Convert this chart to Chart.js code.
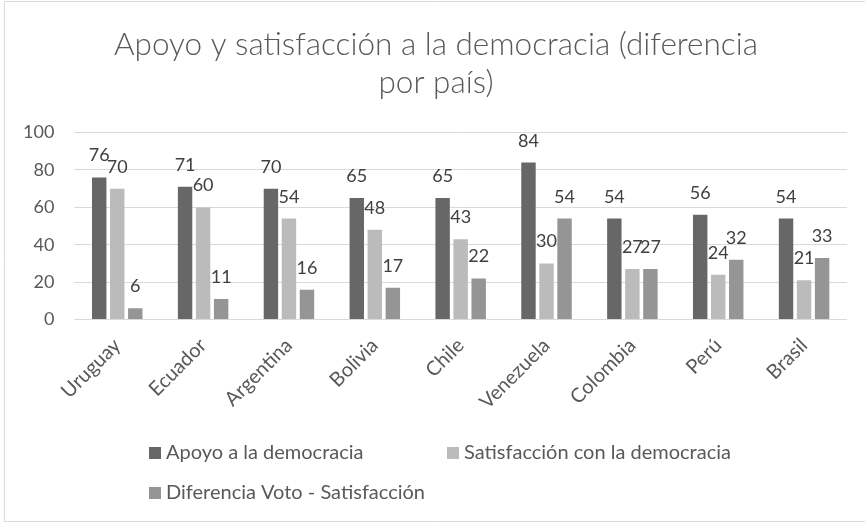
<!DOCTYPE html>
<html>
<head>
<meta charset="utf-8">
<script src="https://cdn.jsdelivr.net/npm/chart.js@4"></script>
<style>
    html, body { margin: 0; padding: 0; background: #fff; }
    #wrap { width: 865px; height: 523px; position: relative; }
</style>
</head>
<body>
<div id="wrap"><canvas id="demoChart"></canvas></div>
<script>
const countries = ['Uruguay', 'Ecuador', 'Argentina', 'Bolivia', 'Chile', 'Venezuela', 'Colombia', 'Perú', 'Brasil'];
const apoyo = [76, 71, 70, 65, 65, 84, 54, 56, 54];
const satisfaccion = [70, 60, 54, 48, 43, 30, 27, 24, 21];
const diferencia = [6, 11, 16, 17, 22, 54, 27, 32, 33];
const seriesNames = ['Apoyo a la democracia', 'Satisfacción con la democracia', 'Diferencia Voto - Satisfacción'];
const yTicks = [0, 20, 40, 60, 80, 100];

const textColor = '#595959';
const fontFamily = 'Lato, "Open Sans", sans-serif';

// value labels above every bar
const valueLabels = {
    id: 'valueLabels',
    afterDatasetsDraw(chart) {
        const ctx = chart.ctx;
        ctx.save();
        ctx.font = '18px ' + fontFamily;
        ctx.fillStyle = '#404040';
        ctx.textAlign = 'center';
        ctx.textBaseline = 'alphabetic';
        chart.data.datasets.forEach((ds, i) => {
            const meta = chart.getDatasetMeta(i);
            meta.data.forEach((bar, j) => {
                ctx.fillText(String(ds.data[j]), bar.x, bar.y - 16);
            });
        });
        ctx.restore();
    }
};

// two-column legend like the office chart, plus the frame
const gridLegend = {
    id: 'gridLegend',
    afterLayout(chart) {
        // the office title sits a little right of the canvas centre
        if (chart.titleBlock) chart.titleBlock.left += 22;
    },
    beforeDraw(chart) {
        const ctx = chart.ctx;
        ctx.save();
        ctx.strokeStyle = '#d9d9d9';
        ctx.lineWidth = 1;
        ctx.beginPath();
        ctx.moveTo(865, 1.5);
        ctx.lineTo(4.5, 1.5);
        ctx.lineTo(4.5, 521.5);
        ctx.lineTo(865, 521.5);
        ctx.stroke();
        ctx.restore();
    },
    afterDraw(chart) {
        const ctx = chart.ctx;
        const spots = [[149, 447], [447, 447], [149, 487]];
        ctx.save();
        ctx.font = '20px ' + fontFamily;
        ctx.textBaseline = 'middle';
        chart.data.datasets.forEach((ds, i) => {
            const [x, y] = spots[i];
            ctx.fillStyle = ds.backgroundColor;
            ctx.fillRect(x, y, 12, 12);
            ctx.fillStyle = textColor;
            ctx.fillText(ds.label, x + 17, y + 6);
        });
        ctx.restore();
    }
};

const barStyle = {
    categoryPercentage: 0.63,
    barPercentage: 0.8,
};

new Chart(document.getElementById('demoChart'), {
    type: 'bar',
    data: {
        labels: countries,
        datasets: [
            { label: seriesNames[0], data: apoyo, backgroundColor: '#676767', ...barStyle },
            { label: seriesNames[1], data: satisfaccion, backgroundColor: '#bbbbbb', ...barStyle },
            { label: seriesNames[2], data: diferencia, backgroundColor: '#959595', ...barStyle },
        ]
    },
    options: {
        responsive: true,
        maintainAspectRatio: false,
        animation: false,
        layout: {
            padding: { left: 3, right: 18, top: 0, bottom: 103 }
        },
        scales: {
            x: {
                grid: { display: false },
                border: { display: false },
                ticks: {
                    color: textColor,
                    font: { family: fontFamily, size: 20 },
                    maxRotation: 45,
                    minRotation: 45,
                    padding: 6,
                }
            },
            y: {
                min: 0,
                max: 100,
                afterBuildTicks(axis) {
                    axis.ticks = yTicks.map(v => ({ value: v }));
                },
                grid: { color: '#d9d9d9', drawTicks: false },
                border: { display: false },
                ticks: {
                    color: textColor,
                    font: { family: fontFamily, size: 18 },
                    padding: 20,
                }
            }
        },
        plugins: {
            legend: { display: false },
            tooltip: { enabled: false },
            title: {
                display: true,
                text: ['Apoyo y satisfacción a la democracia (diferencia', 'por país)'],
                color: textColor,
                font: { family: fontFamily, size: 31.5, weight: '300', lineHeight: 1.2 },
                padding: { top: 26, bottom: 31 },
            }
        }
    },
    plugins: [valueLabels, gridLegend]
});
</script>
</body>
</html>
